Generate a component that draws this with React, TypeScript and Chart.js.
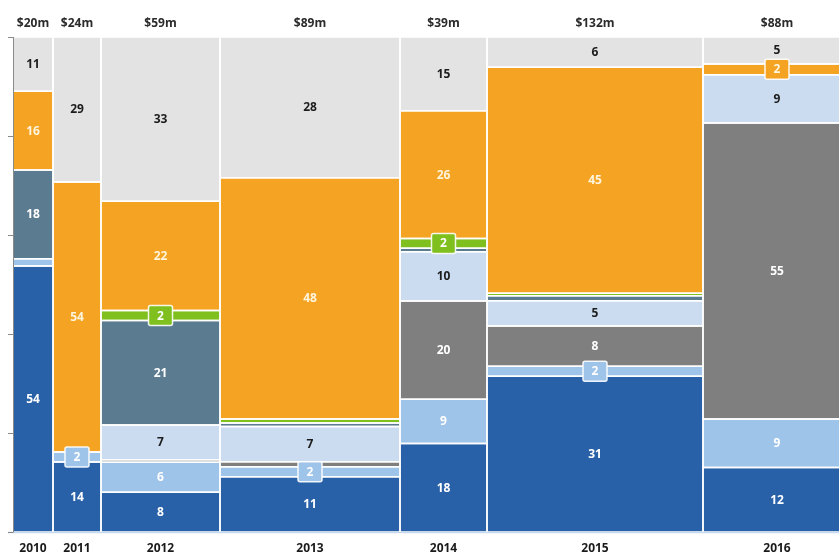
import React, { useEffect, useRef } from "react";
import { Chart, registerables } from "chart.js";

Chart.register(...registerables);

// Columns (years) and the market size printed above each one
const years = ["2010", "2011", "2012", "2013", "2014", "2015", "2016"];
const marketSize = ["$20m", "$24m", "$59m", "$89m", "$39m", "$132m", "$88m"];
// Relative width of each column on the x scale
const columnWidths = [40, 48, 119, 180, 87, 216, 148];
// Portion of the x range shown (the last column runs off the right edge)
const xVisibleMax = 826;

// Segment shares per year, stacked from the bottom up
const darkBlue = [54, 14, 8, 11, 18, 31, 12];
const midBlue = [1.5, 2, 6, 2, 9, 2, 9];
const gray = [0, 0, 0.5, 1, 20, 8, 55];
const paleBlue = [0, 0, 7, 7, 10, 5, 9];
const slate = [18, 0, 21, 0.7, 0.7, 1, 0];
const green = [0, 0, 2, 0.8, 2, 0.5, 0];
const orange = [16, 54, 22, 48, 26, 45, 2];
const lightGray = [11, 29, 33, 28, 15, 6, 5];

const series = [
  { values: darkBlue, color: "#2961a8", text: "#ffffff" },
  { values: midBlue, color: "#9fc4ea", text: "#ffffff" },
  { values: gray, color: "#7f7f7f", text: "#ffffff" },
  { values: paleBlue, color: "#cbdcf1", text: "#1c1c1c" },
  { values: slate, color: "#5b7b90", text: "#ffffff" },
  { values: green, color: "#7fbf1e", text: "#ffffff" },
  { values: orange, color: "#f4a422", text: "#fff4dc" },
  { values: lightGray, color: "#e3e3e3", text: "#1c1c1c" },
];

const yTicks = [0, 20, 40, 60, 80, 100];

const columnStarts: number[] = [];
columnWidths.forEach((w, i) => {
  columnStarts.push(i === 0 ? 0 : columnStarts[i - 1] + columnWidths[i - 1]);
});

type Segment = {
  col: number;
  value: number;
  y0: number;
  y1: number;
  color: string;
  text: string;
};

function buildSegments(): Segment[] {
  const segs: Segment[] = [];
  years.forEach((_, c) => {
    const total = series.reduce((s, ser) => s + ser.values[c], 0);
    let cum = 0;
    series.forEach((ser) => {
      const v = ser.values[c];
      if (v <= 0) return;
      const y0 = (cum / total) * 100;
      cum += v;
      const y1 = (cum / total) * 100;
      segs.push({ col: c, value: v, y0, y1, color: ser.color, text: ser.text });
    });
  });
  return segs;
}

const FONT = '"Open Sans", "DejaVu Sans", sans-serif';

function roundRect(ctx: CanvasRenderingContext2D, x: number, y: number, w: number, h: number, r: number) {
  ctx.beginPath();
  ctx.moveTo(x + r, y);
  ctx.lineTo(x + w - r, y);
  ctx.quadraticCurveTo(x + w, y, x + w, y + r);
  ctx.lineTo(x + w, y + h - r);
  ctx.quadraticCurveTo(x + w, y + h, x + w - r, y + h);
  ctx.lineTo(x + r, y + h);
  ctx.quadraticCurveTo(x, y + h, x, y + h - r);
  ctx.lineTo(x, y + r);
  ctx.quadraticCurveTo(x, y, x + r, y);
  ctx.closePath();
}

export default function App() {
  const canvasRef = useRef<HTMLCanvasElement | null>(null);

  useEffect(() => {
    const canvas = canvasRef.current;
    if (!canvas) return;
    const segments = buildSegments();

    const datasets = segments.map((s) => {
      const x0 = columnStarts[s.col];
      const x1 = x0 + columnWidths[s.col];
      return {
        data: [
          { x: x0, y: s.y0 },
          { x: x1, y: s.y0 },
          { x: x1, y: s.y1 },
          { x: x0, y: s.y1 },
          { x: x0, y: s.y0 },
        ],
        fill: "shape" as const,
        backgroundColor: s.color,
        borderColor: "#ffffff",
        borderWidth: 1.5,
        borderJoinStyle: "miter" as const,
        pointRadius: 0,
        pointHitRadius: 0,
        tension: 0,
      };
    });

    const axisPlugin = {
      id: "mekkoAxes",
      afterDraw(chart: any) {
        const { ctx, chartArea, scales } = chart;
        const ys = scales.y;
        ctx.save();
        // baseline
        ctx.strokeStyle = "#c6d9ee";
        ctx.lineWidth = 1.5;
        ctx.beginPath();
        ctx.moveTo(chartArea.left - 5, ys.getPixelForValue(0) + 0.5);
        ctx.lineTo(chart.width, ys.getPixelForValue(0) + 0.5);
        ctx.stroke();
        // value axis with tick marks
        ctx.strokeStyle = "#8a8a8a";
        ctx.lineWidth = 1;
        ctx.beginPath();
        ctx.moveTo(chartArea.left + 0.5, ys.getPixelForValue(100));
        ctx.lineTo(chartArea.left + 0.5, ys.getPixelForValue(0));
        yTicks.forEach((t) => {
          const py = Math.round(ys.getPixelForValue(t)) + 0.5;
          ctx.moveTo(chartArea.left - 5, py);
          ctx.lineTo(chartArea.left + 0.5, py);
        });
        ctx.stroke();
        ctx.restore();
      },
    };

    const labelPlugin = {
      id: "mekkoLabels",
      afterDatasetsDraw(chart: any) {
        const { ctx, chartArea, scales } = chart;
        const xs = scales.x;
        const ys = scales.y;
        ctx.save();
        ctx.textAlign = "center";
        ctx.textBaseline = "middle";
        segments.forEach((s) => {
          if (s.value < 2) return;
          const cx = xs.getPixelForValue(columnStarts[s.col] + columnWidths[s.col] / 2);
          const cy = ys.getPixelForValue((s.y0 + s.y1) / 2);
          if (s.value < 3) {
            const bw = 24;
            const bh = 20;
            roundRect(ctx, cx - bw / 2, cy - bh / 2, bw, bh, 2);
            ctx.fillStyle = s.color;
            ctx.fill();
            ctx.strokeStyle = "rgba(255,255,255,0.9)";
            ctx.lineWidth = 1.5;
            ctx.stroke();
          }
          ctx.fillStyle = s.text;
          ctx.font = `bold 12px ${FONT}`;
          ctx.fillText(String(s.value), cx, cy + 0.5);
        });
        years.forEach((yr, c) => {
          const cx = xs.getPixelForValue(columnStarts[c] + columnWidths[c] / 2);
          ctx.font = `bold 12px ${FONT}`;
          ctx.fillStyle = "#2b2b2b";
          ctx.fillText(marketSize[c], cx, chartArea.top - 13);
          ctx.font = `bold 12px ${FONT}`;
          ctx.fillStyle = "#1a1a1a";
          ctx.fillText(yr, cx, chartArea.bottom + 17);
        });
        ctx.restore();
      },
    };

    const chart = new Chart(canvas, {
      type: "line",
      data: { datasets: datasets as any },
      options: {
        animation: false,
        responsive: false,
        maintainAspectRatio: false,
        events: [],
        layout: { padding: { left: 13, top: 37, right: 0, bottom: 26 } },
        scales: {
          x: { type: "linear", min: 0, max: xVisibleMax, display: false },
          y: { type: "linear", min: 0, max: 100, display: false },
        },
        plugins: {
          legend: { display: false },
          tooltip: { enabled: false },
          filler: { drawTime: "beforeDatasetsDraw", propagate: false },
        } as any,
      },
      plugins: [labelPlugin, axisPlugin],
    });

    return () => chart.destroy();
  }, []);

  return (
    <div style={{ position: "fixed", left: 0, top: 0, width: 839, height: 558, background: "#ffffff" }}>
      <canvas ref={canvasRef} width={839} height={558} style={{ display: "block" }} />
    </div>
  );
}
